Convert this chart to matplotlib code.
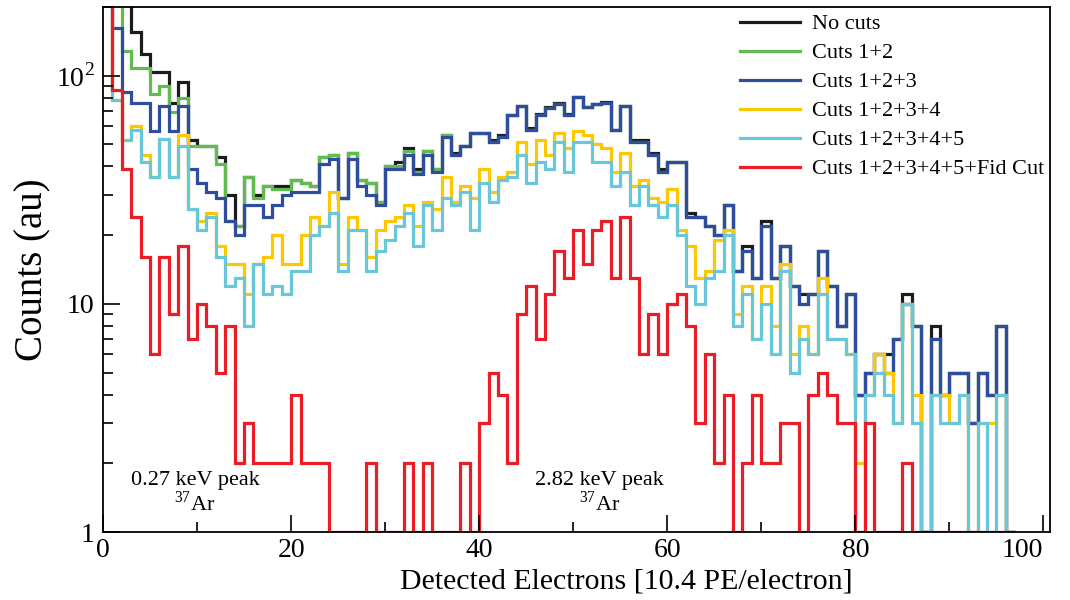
import numpy as np
import matplotlib
matplotlib.use('Agg')
import matplotlib.pyplot as plt
from matplotlib.ticker import FixedLocator, NullFormatter

plt.rcParams['font.family'] = ['Liberation Serif', 'DejaVu Serif']
plt.rcParams['mathtext.fontset'] = 'custom'
plt.rcParams['mathtext.rm'] = 'Liberation Serif'

# bin edges in detected electrons, one bin per electron
edges = np.arange(0, 98)

no_cuts = [260, 240, 215, 155, 125, 104, 104, 76, 94, 52, 49, 49, 44, 30, 22, 36, 30, 33, 33, 33,
           35, 34, 33, 44, 45, 29, 46, 35, 34, 28, 40, 42, 48, 39, 47, 39, 55, 46, 49, 56,
           56, 52, 55, 67, 74, 59, 68, 73, 76, 68, 81, 73, 75, 77, 58, 74, 52, 52, 46, 39,
           42, 42, 25, 24, 22, 20, 27, 14, 18, 13, 23, 13, 18, 12, 11, 11, 17, 12, 8, 11,
           4, 5, 6, 6, 7, 11, 8, 1, 8, 4, 5, 5, 3, 5, 4, 8, 0]
cuts_12 = [260, 230, 128, 108, 108, 83, 90, 69, 80, 49, 49, 49, 41, 23, 22, 36, 29, 33, 32, 32,
           35, 34, 33, 44, 45, 29, 46, 35, 34, 28, 40, 40, 47, 38, 47, 39, 55, 45, 49, 56,
           56, 51, 54, 67, 74, 58, 67, 72, 75, 67, 81, 73, 75, 76, 58, 74, 51, 51, 45, 38,
           42, 42, 24, 24, 22, 20, 27, 14, 17, 13, 22, 13, 18, 12, 10, 11, 17, 12, 8, 11,
           4, 5, 6, 5, 7, 10, 8, 1, 7, 4, 5, 5, 3, 5, 4, 8, 0]
cuts_123 = [260, 162, 85, 76, 76, 57, 74, 57, 74, 39, 34, 31, 29, 23, 20, 27, 27, 24, 27, 30,
            31, 31, 31, 41, 43, 29, 43, 33, 30, 27, 39, 39, 45, 37, 45, 38, 54, 45, 49, 56,
            56, 51, 54, 67, 74, 58, 67, 72, 75, 67, 81, 73, 75, 76, 58, 74, 51, 51, 45, 38,
            42, 42, 24, 24, 22, 20, 27, 14, 17, 13, 22, 13, 18, 12, 10, 11, 17, 12, 8, 11,
            4, 5, 6, 5, 7, 10, 8, 1, 7, 4, 5, 5, 3, 5, 4, 8, 0]
cuts_1234 = [250, 78, 52, 60, 45, 36, 53, 36, 55, 26, 23, 25, 18, 15, 15, 11, 15, 16, 20, 15,
             15, 20, 24, 22, 31, 15, 24, 21, 16, 21, 23, 24, 27, 22, 28, 26, 36, 28, 33, 29,
             39, 31, 36, 38, 51, 41, 52, 45, 56, 48, 57, 55, 50, 48, 38, 46, 33, 35, 29, 28,
             32, 21, 18, 13, 14, 19, 21, 9, 12, 7, 12, 8, 15, 6, 8, 6, 13, 7, 7, 6,
             2, 4, 6, 5, 3, 10, 4, 0, 4, 4, 3, 4, 0, 3, 3, 4, 0]
cuts_12345 = [250, 78, 52, 58, 42, 36, 53, 36, 49, 26, 21, 24, 16, 12, 13, 8, 15, 11, 12, 11,
              14, 14, 20, 22, 25, 14, 21, 21, 14, 17, 19, 22, 25, 18, 27, 21, 29, 27, 31, 21,
              34, 28, 35, 36, 45, 34, 42, 39, 51, 38, 51, 51, 42, 42, 33, 38, 27, 33, 27, 24,
              27, 20, 12, 10, 13, 14, 20, 8, 11, 7, 10, 6, 14, 5, 7, 6, 11, 7, 7, 6,
              1, 4, 5, 4, 3, 10, 3, 0, 4, 3, 3, 4, 0, 3, 0, 4, 0]
cuts_fid = [250, 87, 39, 24, 16, 6, 16, 9, 18, 7, 10, 8, 5, 8, 2, 3, 2, 2, 2, 2,
            4, 2, 2, 2, 0, 0, 0, 0, 2, 0, 0, 0, 2, 0, 2, 0, 0, 0, 2, 0,
            3, 5, 4, 2, 9, 12, 7, 11, 17, 13, 21, 15, 21, 23, 13, 24, 13, 6, 9, 6,
            10, 11, 8, 3, 6, 2, 4, 0, 2, 4, 2, 2, 3, 3, 0, 4, 5, 4, 3, 3,
            0, 3, 0, 0, 0, 2, 0, 0, 0, 0, 0, 0, 0, 0, 0, 0, 0]

series = [
    (no_cuts, '#1c1c1c', 'No cuts'),
    (cuts_12, '#62bb50', 'Cuts 1+2'),
    (cuts_123, '#2e4d9e', 'Cuts 1+2+3'),
    (cuts_1234, '#fdc800', 'Cuts 1+2+3+4'),
    (cuts_12345, '#68c8da', 'Cuts 1+2+3+4+5'),
    (cuts_fid, '#ec1c27', 'Cuts 1+2+3+4+5+Fid Cut'),
]

xticks = [0, 20, 40, 60, 80, 100]

fig = plt.figure(figsize=(10.7, 6.0), dpi=100)
ax = fig.add_axes([0.0963, 0.1133, 0.885, 0.875])

for vals, col, lab in series:
    v = np.clip(np.array(vals, dtype=float), 1.0, None)
    ax.stairs(v, edges, color=col, linewidth=2.3, label=lab, baseline=None)

ax.set_yscale('log')
ax.set_xlim(0, 100.7)
ax.set_ylim(1, 200)

ax.set_xticks(xticks)
ax.set_xticklabels([str(t) for t in xticks])
ax.get_xticklabels()[-1].set_horizontalalignment('right')
ax.xaxis.set_minor_locator(FixedLocator([10, 30, 50, 70, 90]))
ax.yaxis.set_major_locator(FixedLocator([1, 10, 100]))
ax.set_yticklabels(['1', '10', r'10$^{2}$'])
ax.yaxis.set_minor_locator(FixedLocator([m * 10 ** d for d in range(3) for m in range(2, 10)]))
ax.yaxis.set_minor_formatter(NullFormatter())
ax.tick_params(axis='both', which='major', direction='in', length=12, width=1.2, labelsize=20)
ax.tick_params(axis='both', which='minor', direction='in', length=7, width=1.2)
ax.tick_params(axis='x', pad=4)
ax.tick_params(axis='y', pad=6)
for s in ax.spines.values():
    s.set_linewidth(1.3)

ax.set_xlabel('Detected Electrons [10.4 PE/electron]', fontsize=21.5)
ax.xaxis.set_label_coords(0.553, -0.069)
ax.set_ylabel('Counts (au)', fontsize=28)
ax.yaxis.set_label_coords(-0.054, 0.5)

ax.text(9.8, 1.69, '0.27 keV peak', fontsize=16, ha='center', va='center')
ax.text(9.8, 1.34, r'$^{37}$Ar', fontsize=16, ha='center', va='center')
ax.text(52.8, 1.69, '2.82 keV peak', fontsize=16, ha='center', va='center')
ax.text(52.8, 1.34, r'$^{37}$Ar', fontsize=16, ha='center', va='center')

fig.legend(loc='upper left', bbox_to_anchor=(0.6916, 0.977), frameon=False, fontsize=16,
           handlelength=2.7, handletextpad=0.54, labelspacing=0.38, borderpad=0, borderaxespad=0)

fig.savefig('out.png', dpi=100)
